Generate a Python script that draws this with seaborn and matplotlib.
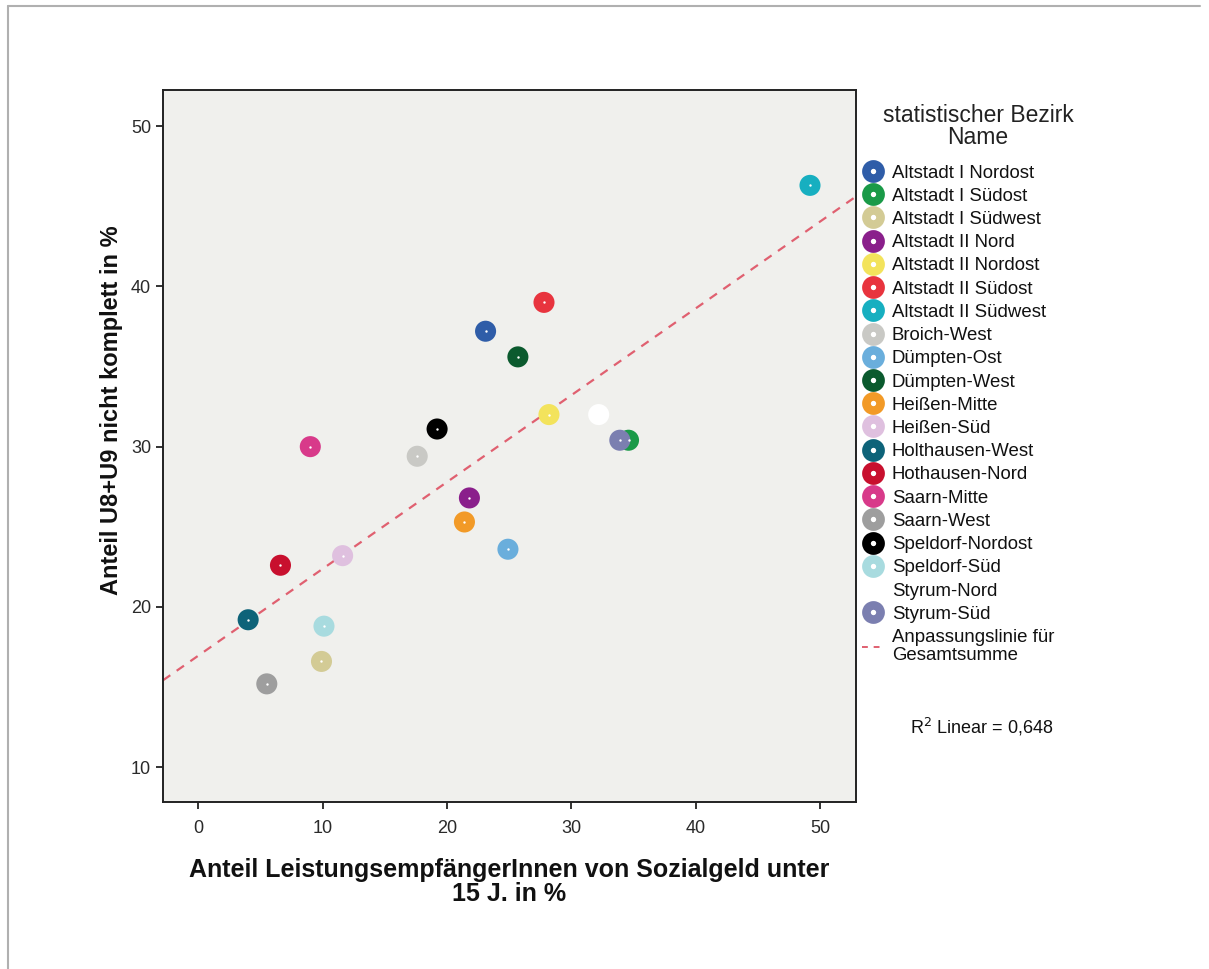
import numpy as np
import pandas as pd
import matplotlib
matplotlib.use("Agg")
import matplotlib.pyplot as plt
from matplotlib.lines import Line2D
import seaborn as sns

# ---------------- data ----------------
districts = [
    "Altstadt I Nordost", "Altstadt I Südost", "Altstadt I Südwest", "Altstadt II Nord",
    "Altstadt II Nordost", "Altstadt II Südost", "Altstadt II Südwest", "Broich-West",
    "Dümpten-Ost", "Dümpten-West", "Heißen-Mitte", "Heißen-Süd", "Holthausen-West",
    "Hothausen-Nord", "Saarn-Mitte", "Saarn-West", "Speldorf-Nordost", "Speldorf-Süd",
    "Styrum-Nord", "Styrum-Süd",
]
sozialgeld = [23.1, 34.6, 9.9, 21.8, 28.2, 27.8, 49.2, 17.6, 24.9, 25.7,
              21.4, 11.6, 4.0, 6.6, 9.0, 5.5, 19.2, 10.1, 32.2, 33.9]
u8u9 = [37.2, 30.4, 16.6, 26.8, 32.0, 39.0, 46.3, 29.4, 23.6, 35.6,
        25.3, 23.2, 19.2, 22.6, 30.0, 15.2, 31.1, 18.8, 32.0, 30.4]
colors = ["#2F5DA8", "#1A9A48", "#D3CB95", "#8A1F8B", "#F3E35C", "#E8343E",
          "#17AFC0", "#C9C9C5", "#6AAEDC", "#0B5A2E", "#F29A27", "#DFC0DF",
          "#0E6379", "#C8102E", "#D83A8A", "#9E9E9E", "#000000", "#A8DBDF",
          "#FFFFFF", "#7B7FB0"]
x_ticks = [0, 10, 20, 30, 40, 50]
y_ticks = [10, 20, 30, 40, 50]
legend_title = ["statistischer Bezirk", "Name"]
r2_text = "R$^2$ Linear = 0,648"

df = pd.DataFrame({"Bezirk": districts, "x": sozialgeld, "y": u8u9})
palette = dict(zip(districts, colors))

# ---------------- figure ----------------
sns.set_style("white")
plt.rcParams["font.family"] = ["Liberation Sans", "DejaVu Sans"]

W, H = 1209, 969
fig = plt.figure(figsize=(W / 100, H / 100), dpi=100)
ax = fig.add_axes([163 / W, 1 - 802 / H, (856 - 163) / W, (802 - 90) / H])
ax.set_facecolor("#F0F0ED")

ax.set_xlim(-2.85, 52.9)
ax.set_ylim(7.83, 52.25)

sns.regplot(data=df, x="x", y="y", ax=ax, scatter=False, ci=None, truncate=False,
            line_kws=dict(color="#E06070", lw=1.6, dashes=(4, 3.5)))

sns.scatterplot(data=df, x="x", y="y", hue="Bezirk", palette=palette, ax=ax,
                s=230, edgecolor="none", legend=False, zorder=3)
ax.scatter(df["x"], df["y"], s=3, color="white", zorder=4, linewidths=0)

ax.set_xticks(x_ticks)
ax.set_yticks(y_ticks)
ax.tick_params(axis="both", direction="out", length=5, width=1.3, color="#222222",
               labelsize=13, labelcolor="#2A2A2A", bottom=True, left=True)
ax.tick_params(axis="x", pad=8)
ax.tick_params(axis="y", pad=3.5)
for sp in ax.spines.values():
    sp.set_color("#222222")
    sp.set_linewidth(1.4)

ax.set_xlabel("Anteil LeistungsempfängerInnen von Sozialgeld unter\n15 J. in %",
              fontsize=18, fontweight="bold", linespacing=1.02, color="#111111")
ax.set_ylabel("Anteil U8+U9 nicht komplett in %", fontsize=17, fontweight="bold",
              color="#111111")
ax.xaxis.set_label_coords(0.5, -0.078, transform=ax.transAxes)
ax.xaxis.label.set_va("top")
ax.yaxis.set_label_coords(-0.074, 0.55, transform=ax.transAxes)
ax.yaxis.label.set_va("center")

# ---------------- legend ----------------
fig.text(978 / W, 1 - 115 / H, legend_title[0], fontsize=16.5, color="#222222",
         ha="center", va="center")
fig.text(978 / W, 1 - 137 / H, legend_title[1], fontsize=16.5, color="#222222",
         ha="center", va="center")

handles = []
for name, col in zip(districts, colors):
    handles.append(Line2D([], [], ls="none", marker="o", markersize=10.2,
                          markerfacecolor="white", markeredgecolor=col,
                          markeredgewidth=6.2, label=name))
handles.append(Line2D([], [], color="#E06070", lw=1.4, dashes=(3, 3),
                      label="Anpassungslinie für\nGesamtsumme"))
leg = fig.legend(handles=handles, loc="upper left",
                 bbox_to_anchor=(862 / W, 1 - 164.5 / H),
                 frameon=False, fontsize=13.4,
                 handlelength=1.15, handletextpad=0.45,
                 labelspacing=0.333, borderaxespad=0, borderpad=0)
for t in leg.get_texts():
    t.set_color("#111111")
    t.set_linespacing(1.1)

fig.text(910 / W, 1 - 727 / H, r2_text, fontsize=13, color="#111111",
         ha="left", va="center")

# outer frame lines (top & left)
fig.add_artist(Line2D([7.5 / W, 1200 / W], [1 - 5.5 / H, 1 - 5.5 / H],
                      transform=fig.transFigure, color="#B0B0B0", lw=1.5))
fig.add_artist(Line2D([7.5 / W, 7.5 / W], [0, 1 - 5.5 / H],
                      transform=fig.transFigure, color="#B0B0B0", lw=1.5))

fig.savefig("out.png", dpi=100, facecolor="white")
